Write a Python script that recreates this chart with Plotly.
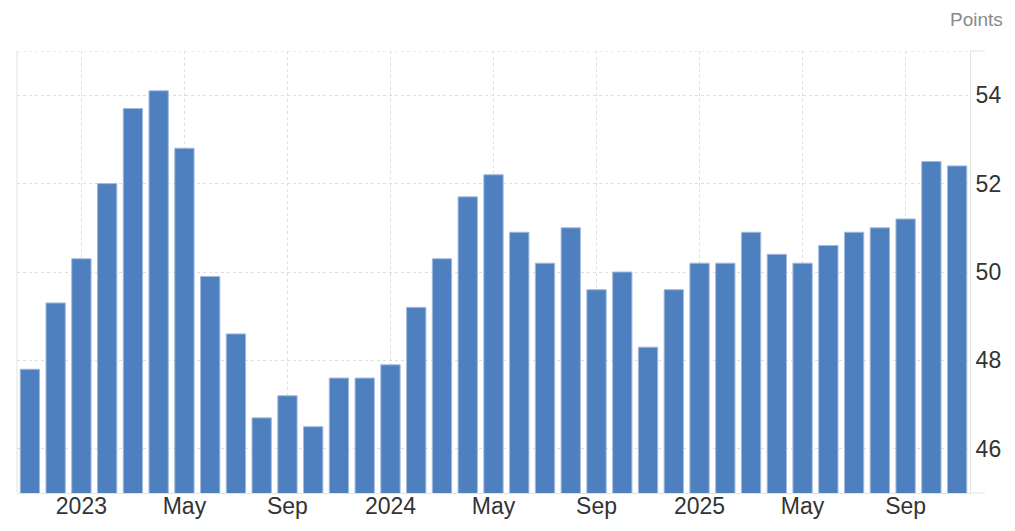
import plotly.graph_objects as go

months = [
    "Nov 2022", "Dec 2022",
    "Jan 2023", "Feb 2023", "Mar 2023", "Apr 2023", "May 2023", "Jun 2023",
    "Jul 2023", "Aug 2023", "Sep 2023", "Oct 2023", "Nov 2023", "Dec 2023",
    "Jan 2024", "Feb 2024", "Mar 2024", "Apr 2024", "May 2024", "Jun 2024",
    "Jul 2024", "Aug 2024", "Sep 2024", "Oct 2024", "Nov 2024", "Dec 2024",
    "Jan 2025", "Feb 2025", "Mar 2025", "Apr 2025", "May 2025", "Jun 2025",
    "Jul 2025", "Aug 2025", "Sep 2025", "Oct 2025", "Nov 2025",
]
values = [
    47.8, 49.3,
    50.3, 52.0, 53.7, 54.1, 52.8, 49.9,
    48.6, 46.7, 47.2, 46.5, 47.6, 47.6,
    47.9, 49.2, 50.3, 51.7, 52.2, 50.9,
    50.2, 51.0, 49.6, 50.0, 48.3, 49.6,
    50.2, 50.2, 50.9, 50.4, 50.2, 50.6,
    50.9, 51.0, 51.2, 52.5, 52.4,
]
tick_vals = ["Jan 2023", "May 2023", "Sep 2023", "Jan 2024", "May 2024",
             "Sep 2024", "Jan 2025", "May 2025", "Sep 2025"]
tick_text = ["2023", "May", "Sep", "2024", "May", "Sep", "2025", "May", "Sep"]
y_ticks = [46, 48, 50, 52, 54]

FONT = "Liberation Sans, Arial, Helvetica, sans-serif"
AXIS = "#e3e3e3"
GRID = "#dedede"

# page has an 8px body margin; figure sized to fit the 1015x531 window
W, H = 999, 515
L, R, T, B = 9, 37, 43, 30
plot_w = W - L - R

fig = go.Figure(go.Bar(
    x=months, y=values,
    marker=dict(color="#4e80bf", line=dict(color="#a3bbdd", width=1)),
    hoverinfo="x+y",
))

fig.update_layout(
    width=W, height=H,
    margin=dict(l=L, r=R, t=T, b=B, autoexpand=False),
    paper_bgcolor="white", plot_bgcolor="white",
    bargap=0.25,
    showlegend=False,
    font=dict(family=FONT, color="#333333"),
    xaxis=dict(
        type="category", automargin=False,
        range=[-0.5, len(months) - 0.5],
        tickmode="array", tickvals=tick_vals, ticktext=tick_text,
        tickfont=dict(size=23, color="#333333"),
        ticklabelstandoff=-8,
        showgrid=True, gridcolor=GRID, griddash="dot", gridwidth=1,
        showline=True, linecolor=AXIS, linewidth=1,
        ticks="", zeroline=False,
    ),
    yaxis=dict(
        side="right", automargin=False,
        range=[45, 55],
        tickmode="array", tickvals=y_ticks,
        tickfont=dict(size=23, color="#333333"),
        showgrid=True, gridcolor=GRID, griddash="dot", gridwidth=1,
        showline=True, linecolor=AXIS, linewidth=1,
        ticks="", zeroline=False,
    ),
    annotations=[dict(
        text="Points", xref="paper", yref="paper",
        x=1 + 35 / plot_w, y=1 + 32 / (H - T - B), xanchor="right", yanchor="middle",
        showarrow=False, font=dict(family=FONT, size=19, color="#8a8a8a"),
    )],
    shapes=[
        dict(type="line", xref="paper", yref="y", x0=0, x1=1, y0=55, y1=55,
             line=dict(color=GRID, width=1, dash="dot")),
        dict(type="line", xref="paper", yref="paper", x0=1, x1=1 + 15 / plot_w, y0=1, y1=1,
             line=dict(color=AXIS, width=1)),
        dict(type="line", xref="paper", yref="paper", x0=1, x1=1 + 15 / plot_w, y0=0, y1=0,
             line=dict(color=AXIS, width=1)),
        dict(type="line", xref="paper", yref="paper", x0=0, x1=0, y0=0, y1=1,
             line=dict(color=AXIS, width=1)),
    ],
)

fig.write_html("out.html")
